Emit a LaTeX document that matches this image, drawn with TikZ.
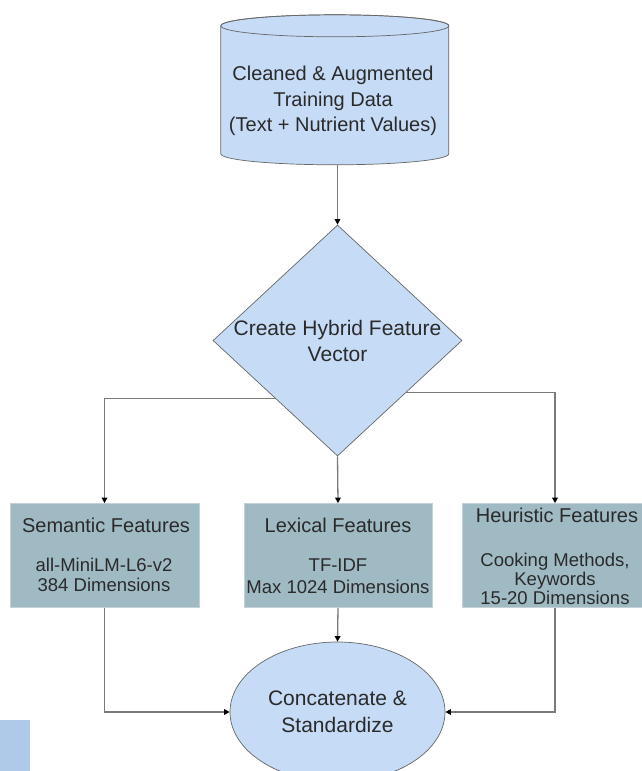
\documentclass[tikz,border=0pt]{standalone}
\usepackage{fontspec}
\setmainfont{Liberation Sans}
\usetikzlibrary{shapes.geometric,arrows.meta}
\definecolor{shapeblue}{HTML}{C6DBF6}
\definecolor{boxteal}{HTML}{A0BAC4}
\definecolor{boxedge}{HTML}{C4D2D8}
\definecolor{lineGray}{HTML}{7A7A7A}
\definecolor{txt}{HTML}{2A2A2A}
\definecolor{cornerblue}{HTML}{AFC9E9}
\tikzset{
  shapeedge/.style={draw=black!60, line width=0.7pt, fill=shapeblue},
  featbox/.style={rectangle, draw=boxedge, line width=0.6pt, fill=boxteal, inner sep=0pt, minimum height=104pt},
  conn/.style={draw=lineGray, line width=1.3pt, -{Triangle[length=5.5pt,width=5.5pt,fill=black,color=black]}},
  headtxt/.style={text=txt, font=\fontsize{20}{24}\selectfont, inner sep=0pt},
  subtxt/.style={text=txt, align=center, inner sep=0pt},
}
\begin{document}
\begin{tikzpicture}[x=1pt,y=-1pt]
\useasboundingbox (0,0) rectangle (642,771);
% corner fragment
\fill[cornerblue] (0,720) rectangle (30,771);
% cylinder
\node[rectangle, minimum width=228pt, minimum height=150pt, inner sep=0pt] (db) at (335,90) {};
\path[shapeedge] (db.north west) ++(0,11) -- ++(0,128)
  arc[start angle=180, end angle=360, x radius=114pt, y radius=11pt]
  -- ++(0,-128) arc[start angle=0, end angle=180, x radius=114pt, y radius=11pt] -- cycle;
\draw[black!60, line width=0.7pt] (db.north west) ++(0,11) arc[start angle=180, end angle=540, x radius=114pt, y radius=11pt];
\node[subtxt, font=\fontsize{20}{25.5}\selectfont] (dbtext) at (333,101) {Cleaned \& Augmented\\Training Data\\(Text + Nutrient Values)};
% diamond
\node[diamond, shapeedge, minimum width=249pt, minimum height=231pt, inner sep=0pt] (dia) at (337.5,340.5) {};
\node[subtxt, font=\fontsize{21}{26}\selectfont] (diatext) at (337.5,341) {Create Hybrid Feature\\Vector};
% feature boxes
\node[featbox, minimum width=189pt] (sem) at (104.5,555.5) {};
\node[featbox, minimum width=188pt] (lex) at (338,555.5) {};
\node[featbox, minimum width=186pt] (heu) at (555,555.5) {};
\node[headtxt] (semh) at (106,525) {Semantic Features};
\node[subtxt, font=\fontsize{18.5}{20.5}\selectfont] (sems) at (104,575) {all-MiniLM-L6-v2\\384 Dimensions};
\node[headtxt] (lexh) at (338,525) {Lexical Features};
\node[subtxt, font=\fontsize{18.5}{21.5}\selectfont] (lexs) at (338,576) {TF-IDF\\Max 1024 Dimensions};
\node[headtxt] (heuh) at (557,515) {Heuristic Features};
\node[subtxt, font=\fontsize{18.5}{18.8}\selectfont] (heus) at (555,579) {Cooking Methods,\\Keywords\\15-20 Dimensions};
% ellipse
\node[ellipse, shapeedge, minimum width=215pt, minimum height=140pt, inner sep=0pt] (ell) at (337.5,712) {};
\node[subtxt, font=\fontsize{21}{27}\selectfont] (elltext) at (337.5,711.5) {Concatenate \&\\Standardize};
% connectors
\draw[conn] (dia.north |- db.south) -- (dia.north);
\draw[conn] (dia.223.6) -| (sem.north);
\draw[conn] (dia.-37.9) -| (heu.north);
\draw[conn] (dia.south) -- (lex.north);
\draw[conn] (lex.south) -- (ell.north);
\draw[conn] (sem.south) |- (ell.west);
\draw[conn] (heu.south) |- (ell.east);
\end{tikzpicture}
\end{document}
